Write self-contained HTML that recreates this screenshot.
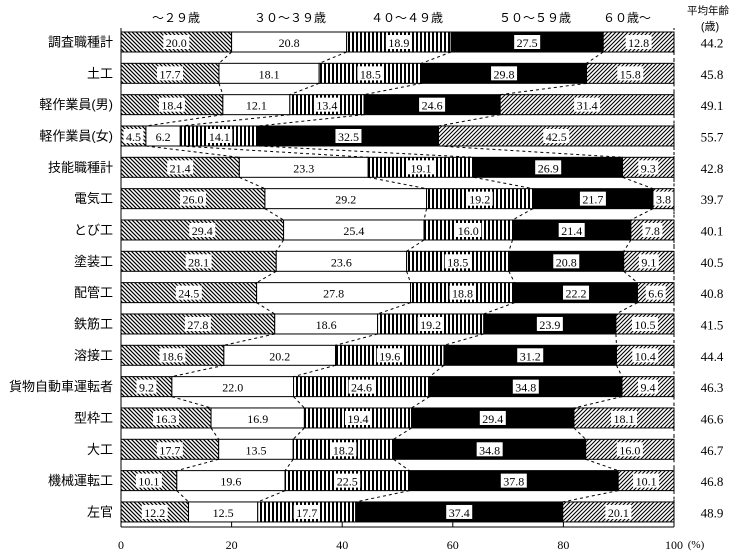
<!DOCTYPE html>
<html><head><meta charset="utf-8"><style>
html,body{margin:0;padding:0;background:#fff;width:731px;height:552px;overflow:hidden}
svg{display:block;font-family:"Liberation Serif","Noto Sans CJK JP",serif}
.jp{font-family:"Liberation Sans","Noto Sans CJK JP",sans-serif}
</style></head><body>
<svg id="chart" width="731" height="552" xmlns="http://www.w3.org/2000/svg">
<defs>
<pattern id="pBack" patternUnits="userSpaceOnUse" width="4" height="4"><rect width="4" height="4" fill="#fff"/><path d="M-1,-1 L5,5 M-1,3 L1,5 M3,-1 L5,1" stroke="#000" stroke-width="1.2"/></pattern>
<pattern id="pVert" patternUnits="userSpaceOnUse" width="4" height="4"><rect width="4" height="4" fill="#fff"/><rect x="0" width="2" height="4" fill="#000"/></pattern>
<pattern id="pFwd" patternUnits="userSpaceOnUse" width="4" height="4"><rect width="4" height="4" fill="#fff"/><path d="M-1,5 L5,-1 M-1,1 L1,-1 M3,5 L5,3" stroke="#000" stroke-width="1.1"/></pattern>
</defs>
<g id="g"></g>
</svg>
<script>
const categories=["調査職種計","土工","軽作業員(男)","軽作業員(女)","技能職種計","電気工","とび工","塗装工","配管工","鉄筋工","溶接工","貨物自動車運転者","型枠工","大工","機械運転工","左官"];
const age29=[20.0,17.7,18.4,4.5,21.4,26.0,29.4,28.1,24.5,27.8,18.6,9.2,16.3,17.7,10.1,12.2];
const age30s=[20.8,18.1,12.1,6.2,23.3,29.2,25.4,23.6,27.8,18.6,20.2,22.0,16.9,13.5,19.6,12.5];
const age40s=[18.9,18.5,13.4,14.1,19.1,19.2,16.0,18.5,18.8,19.2,19.6,24.6,19.4,18.2,22.5,17.7];
const age50s=[27.5,29.8,24.6,32.5,26.9,21.7,21.4,20.8,22.2,23.9,31.2,34.8,29.4,34.8,37.8,37.4];
const age60=[12.8,15.8,31.4,42.5,9.3,3.8,7.8,9.1,6.6,10.5,10.4,9.4,18.1,16.0,10.1,20.1];
const avgAge=[44.2,45.8,49.1,55.7,42.8,39.7,40.1,40.5,40.8,41.5,44.4,46.3,46.6,46.7,46.8,48.9];
const seriesNames=["～２９歳","３０～３９歳","４０～４９歳","５０～５９歳","６０歳～"];
const xTicks=[0,20,40,60,80,100];

const NS="http://www.w3.org/2000/svg";
const g=document.getElementById('g');
const X0=121,X1=674,Y0=42,STEP=31.33,BH=20;
const xs=v=>X0+(X1-X0)*v/100;
const yc=i=>Y0+i*STEP;
const fills=["url(#pBack)","#fff","url(#pVert)","#000","url(#pFwd)"];
const series=[age29,age30s,age40s,age50s,age60];
function el(t,a){const e=document.createElementNS(NS,t);for(const k in a)e.setAttribute(k,a[k]);g.appendChild(e);return e;}
function txt(x,y,s,size,anchor,cls){const t=el('text',{x:x,y:y,'font-size':size,'text-anchor':anchor||'middle','dominant-baseline':'central'});if(cls)t.setAttribute('class',cls);t.textContent=s;return t;}

const bounds=categories.map((c,i)=>{const tot=series.reduce((a,s)=>a+s[i],0);let acc=0;const b=[0];series.forEach(s=>{acc+=s[i]/tot*100;b.push(acc);});return b;});

for(let i=0;i<categories.length-1;i++){
  for(let k=1;k<=5;k++){
    const l=el('line',{x1:xs(bounds[i][k]),y1:yc(i)+BH/2,x2:xs(bounds[i+1][k]),y2:yc(i+1)-BH/2,stroke:'#000','stroke-width':1,'stroke-dasharray':'3,3'});
    
    
  }
}
categories.forEach((c,i)=>{
  const y=yc(i);
  const lab=txt(113,y,c,13,'end','jp');
  
  
  for(let k=0;k<5;k++){
    const a=xs(bounds[i][k]),b=xs(bounds[i][k+1]);
    const r=el('rect',{x:a,y:y-BH/2,width:b-a,height:BH,fill:fills[k],stroke:'#000','stroke-width':1});
    
    
    const v=series[k][i].toFixed(1);
    const w=v.length*6+2;
    if(k!==1){
      const bg=el('rect',{x:(a+b)/2-w/2,y:y-7,width:w,height:14,fill:'#fff'});
      
      
    }
    const t=txt((a+b)/2,y+1,v,12,'middle');
    
    
  }
  const av=txt(712,y+1,avgAge[i].toFixed(1),13,'middle');
  
  
});
const ax=el('line',{x1:X0,y1:28,x2:X0,y2:527,stroke:'#000'});


const bx=el('line',{x1:X0,y1:527,x2:X1,y2:527,stroke:'#000'});


const rl=el('line',{x1:X1,y1:28,x2:X1,y2:527,stroke:'#000','stroke-dasharray':'2,6'});


xTicks.forEach(v=>{
  const tk=el('line',{x1:xs(v),y1:522,x2:xs(v),y2:527,stroke:'#000'});
  
  
  const t=txt(xs(v),545,String(v),12,'middle');
  
  
});
const pc=txt(696,545,'(%)',11,'middle');


const hx=[176,290,407,535,627];
seriesNames.forEach((s,k)=>{
  const t=txt(hx[k],18,s,12,'middle','jp');
  
  
});
const h1=txt(708,11,'平均年齢',10.5,'middle','jp');


const h2=txt(710,27,'(歳)',11,'middle','jp');


</script>
</body></html>
